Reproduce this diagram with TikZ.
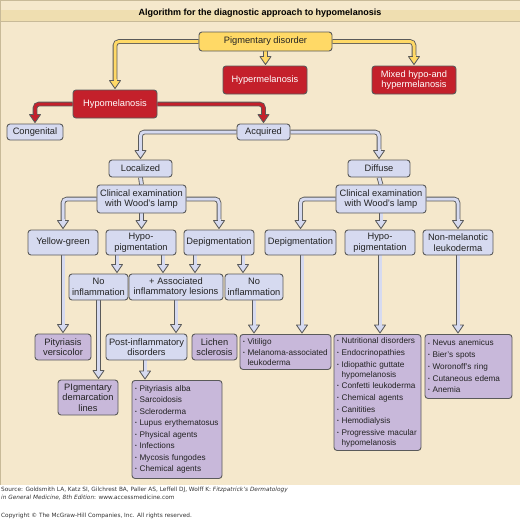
\documentclass[tikz,border=0pt]{standalone}
\usepackage{fontspec}
\setmainfont{Liberation Sans}
\newfontfamily\footfont{DejaVu Sans}
\usetikzlibrary{calc}
\pgfdeclarelayer{bg}
\pgfsetlayers{bg,main}
\definecolor{beige}{RGB}{245,232,204}
\definecolor{band}{RGB}{239,222,176}
\definecolor{bandline}{RGB}{200,186,152}
\definecolor{ylw}{RGB}{255,217,102}
\definecolor{rd}{RGB}{196,32,43}
\definecolor{blu}{RGB}{214,218,240}
\definecolor{prp}{RGB}{200,184,218}
\definecolor{outl}{RGB}{90,90,90}
\definecolor{txt}{RGB}{35,35,35}
\definecolor{foot}{RGB}{50,50,50}
\tikzset{
 box/.style={draw=outl, line width=0.9pt, rounded corners=3pt, inner sep=1pt, align=center,
   font=\fontsize{9.3}{10.6}\selectfont, text=txt},
 sz/.style 2 args={minimum width=#1, minimum height=#2},
 ybox/.style={box, fill=ylw},
 rbox/.style={box, fill=rd, text=white},
 bbox/.style={box, fill=blu},
 pbox/.style={box, fill=prp},
 lbox/.style={pbox, align=left, anchor=north, inner xsep=3pt, inner ysep=2pt,
   font=\fontsize{8.2}{10}\selectfont},
 conn/.style={draw=outl, line width=0.85pt, double distance=3pt, rounded corners=4pt},
 foottxt/.style={font=\footfont\fontsize{5.8}{8}\selectfont, text=foot, anchor=north west, inner sep=0pt},
}
\newcommand\bul{\makebox[4.6pt][l]{\raisebox{0.9pt}{\scalebox{0.6}{•}}}}
\newcommand\cont{\hspace*{4.6pt}}
\newcommand\fathead[2]{%
  \filldraw[draw=outl, fill=#1, line width=0.85pt, line join=round]
    ([shift={(-5.5pt,8pt)}]#2) -- (#2) -- ([shift={(5.5pt,8pt)}]#2) -- cycle;
  \draw[#1, line width=3pt] ([yshift=6.8pt]#2) -- ([yshift=9.6pt]#2);}
\newcommand\elbow[3]{%
  \coordinate (tipE) at ([yshift=1pt]#3);
  \draw[conn, double=#1] (#2) -| ([yshift=8pt]tipE);
  \fathead{#1}{tipE}}
\newcommand\vfat[3]{%
  \coordinate (tipV) at (#2 |- #3);
  \coordinate (tipW) at ([yshift=1pt]tipV);
  \draw[conn, double=#1] (#2) -- ([yshift=8pt]tipW);
  \fathead{#1}{tipW}}
\begin{document}
\begin{tikzpicture}[x=1pt, y=-1pt]
\useasboundingbox (0,0) rectangle (520,520);
\begin{pgfonlayer}{bg}
  \fill[beige] (0,0) rectangle (520,485);
  \fill[band] (0,9.5) rectangle (520,21);
  \draw[bandline, line width=0.8pt] (0,0.5) -- (520,0.5);
  \draw[bandline, line width=0.8pt] (0,21) -- (520,21);
  \draw[bandline, line width=0.8pt] (0.4,0) -- (0.4,485);
\end{pgfonlayer}
\node[font=\bfseries\fontsize{9}{10}\selectfont, text=black] (title) at (260,13) {Algorithm for the diagnostic approach to hypomelanosis};

% top level
\node[ybox, sz={133pt}{19pt}] (pig) at (265.5,41.5) {Pigmentary disorder};
\node[rbox, sz={84pt}{28pt}] (hyper) at (265,80) {Hypermelanosis};
\node[rbox, sz={84pt}{28pt}] (mixed) at (414,80) {Mixed hypo-and\\hypermelanosis};
\node[rbox, sz={84pt}{28pt}] (hypo) at (115,104) {Hypomelanosis};
\node[bbox, sz={56pt}{16pt}] (cong) at (35,132) {Congenital};
\node[bbox, sz={53pt}{16pt}] (acq) at (263.5,132) {Acquired};
% localized branch
\node[bbox, sz={63pt}{17pt}] (loc) at (140.5,168.5) {Localized};
\node[bbox, sz={89pt}{28pt}] (clinL) at (141.5,199) {Clinical examination\\with Wood’s lamp};
\node[bbox, sz={70pt}{25pt}] (yg) at (63,242.5) {Yellow-green};
\node[bbox, sz={70pt}{25pt}] (hypoL) at (141,242.5) {Hypo-\\pigmentation};
\node[bbox, sz={70pt}{25pt}] (depL) at (219,242.5) {Depigmentation};
\node[bbox, sz={59pt}{26pt}] (noinfL) at (98.5,287) {No\\inflammation};
\node[bbox, sz={94pt}{26pt}] (assoc) at (176,287) {+ Associated\\inflammatory lesions};
\node[bbox, sz={58pt}{26pt}] (noinfR) at (254,287) {No\\inflammation};
\node[pbox, sz={56pt}{26pt}] (pv) at (63,347) {Pityriasis\\versicolor};
\node[bbox, sz={81pt}{26pt}] (post) at (146.5,347) {Post-inflammatory\\disorders};
\node[pbox, sz={45pt}{26pt}] (lichen) at (214.5,347) {Lichen\\sclerosis};
\node[pbox, sz={60pt}{35pt}] (pdl) at (88,397.5) {PIgmentary\\demarcation\\lines};
\node[lbox, text width=84pt, minimum height=98pt] (plist) at (177,380) {%
 \bul Pityriasis alba\\[1.5pt]\bul Sarcoidosis\\[1.5pt]\bul Scleroderma\\[1.5pt]\bul Lupus erythematosus\\[1.5pt]%
 \bul Physical agents\\[1.5pt]\bul Infections\\[1.5pt]\bul Mycosis fungodes\\[1.5pt]\bul Chemical agents};
% diffuse branch
\node[bbox, sz={62pt}{17pt}] (dif) at (379,168.5) {Diffuse};
\node[bbox, sz={90pt}{28pt}] (clinR) at (381,199) {Clinical examination\\with Wood’s lamp};
\node[bbox, sz={71pt}{25pt}] (depR) at (300.5,242.5) {Depigmentation};
\node[bbox, sz={70pt}{25pt}] (hypoR) at (380,242.5) {Hypo-\\pigmentation};
\node[bbox, sz={70pt}{25pt}] (nonmel) at (458,242.5) {Non-melanotic\\leukoderma};
\node[lbox, text width=85pt, minimum height=35pt] (vit) at (285.5,334) {%
 \bul Vitiligo\\[1.5pt]\bul Melanoma-associated\\\cont leukoderma};
\node[lbox, text width=81pt, minimum height=116pt] (nutr) at (377.5,334) {%
 \bul Nutritional disorders\\[1.7pt]\bul Endocrinopathies\\[1.7pt]\bul Idiopathic guttate\\\cont hypomelanosis\\[1.7pt]%
 \bul Confetti leukoderma\\[1.7pt]\bul Chemical agents\\[1.7pt]\bul Canitities\\[1.7pt]\bul Hemodialysis\\[1.7pt]%
 \bul Progressive macular\\\cont hypomelanosis};
\node[lbox, text width=81pt, minimum height=64pt] (nevus) at (468.5,334) {%
 \bul Nevus anemicus\\[1.7pt]\bul Bier’s spots\\[1.7pt]\bul Woronoff’s ring\\[1.7pt]\bul Cutaneous edema\\[1.7pt]\bul Anemia};

% footer
\node[foottxt, align=left] (src) at (1,486.5)
 {Source: Goldsmith LA, Katz SI, Gilchrest BA, Paller AS, Leffell DJ, Wolff K: \textit{Fitzpatrick’s Dermatology}\\
  \textit{in General Medicine, 8th Edition}: www.accessmedicine.com};
\node[foottxt] (copy) at (1,512.5)
 {Copyright © The McGraw-Hill Companies, Inc. All rights reserved.};

% connectors
\begin{pgfonlayer}{bg}
  \elbow{ylw}{pig.west}{hypo.north}
  \elbow{ylw}{pig.east}{mixed.north}
  \vfat{ylw}{pig.south}{hyper.north}
  \elbow{rd}{hypo.west}{cong.north}
  \elbow{rd}{hypo.east}{acq.north}
  \elbow{blu}{acq.west}{loc.north}
  \elbow{blu}{acq.east}{dif.north}
  \draw[conn, double=blu] (loc.south) -- (clinL.north);
  \draw[conn, double=blu] (dif.south) -- (clinR.north);
  \elbow{blu}{clinL.west}{yg.north}
  \elbow{blu}{clinL.east}{depL.north}
  \vfat{blu}{clinL.south}{hypoL.north}
  \elbow{blu}{clinR.west}{depR.north}
  \elbow{blu}{clinR.east}{nonmel.north}
  \vfat{blu}{clinR.south}{hypoR.north}
  \coordinate (h1) at ([xshift=-24pt]hypoL.south);
  \coordinate (h2) at ([xshift=22pt]hypoL.south);
  \coordinate (d1) at ([xshift=-24pt]depL.south);
  \coordinate (d2) at ([xshift=24pt]depL.south);
  \vfat{blu}{h1}{noinfL.north}
  \vfat{blu}{h2}{assoc.north}
  \vfat{blu}{d1}{assoc.north}
  \vfat{blu}{d2}{noinfR.north}
  \vfat{blu}{yg.south}{pv.north}
  \vfat{blu}{noinfL.south}{pdl.north}
  \vfat{blu}{assoc.south}{post.north}
  \vfat{blu}{noinfR.south}{vit.north}
  \coordinate (dr) at ([xshift=1.5pt]depR.south);
  \vfat{blu}{dr}{vit.north}
  \vfat{blu}{hypoR.south}{nutr.north}
  \vfat{blu}{nonmel.south}{nevus.north}
  \coordinate (ps) at ([xshift=-1.5pt]post.south);
  \vfat{blu}{ps}{plist.north}
\end{pgfonlayer}
\end{tikzpicture}
\end{document}
